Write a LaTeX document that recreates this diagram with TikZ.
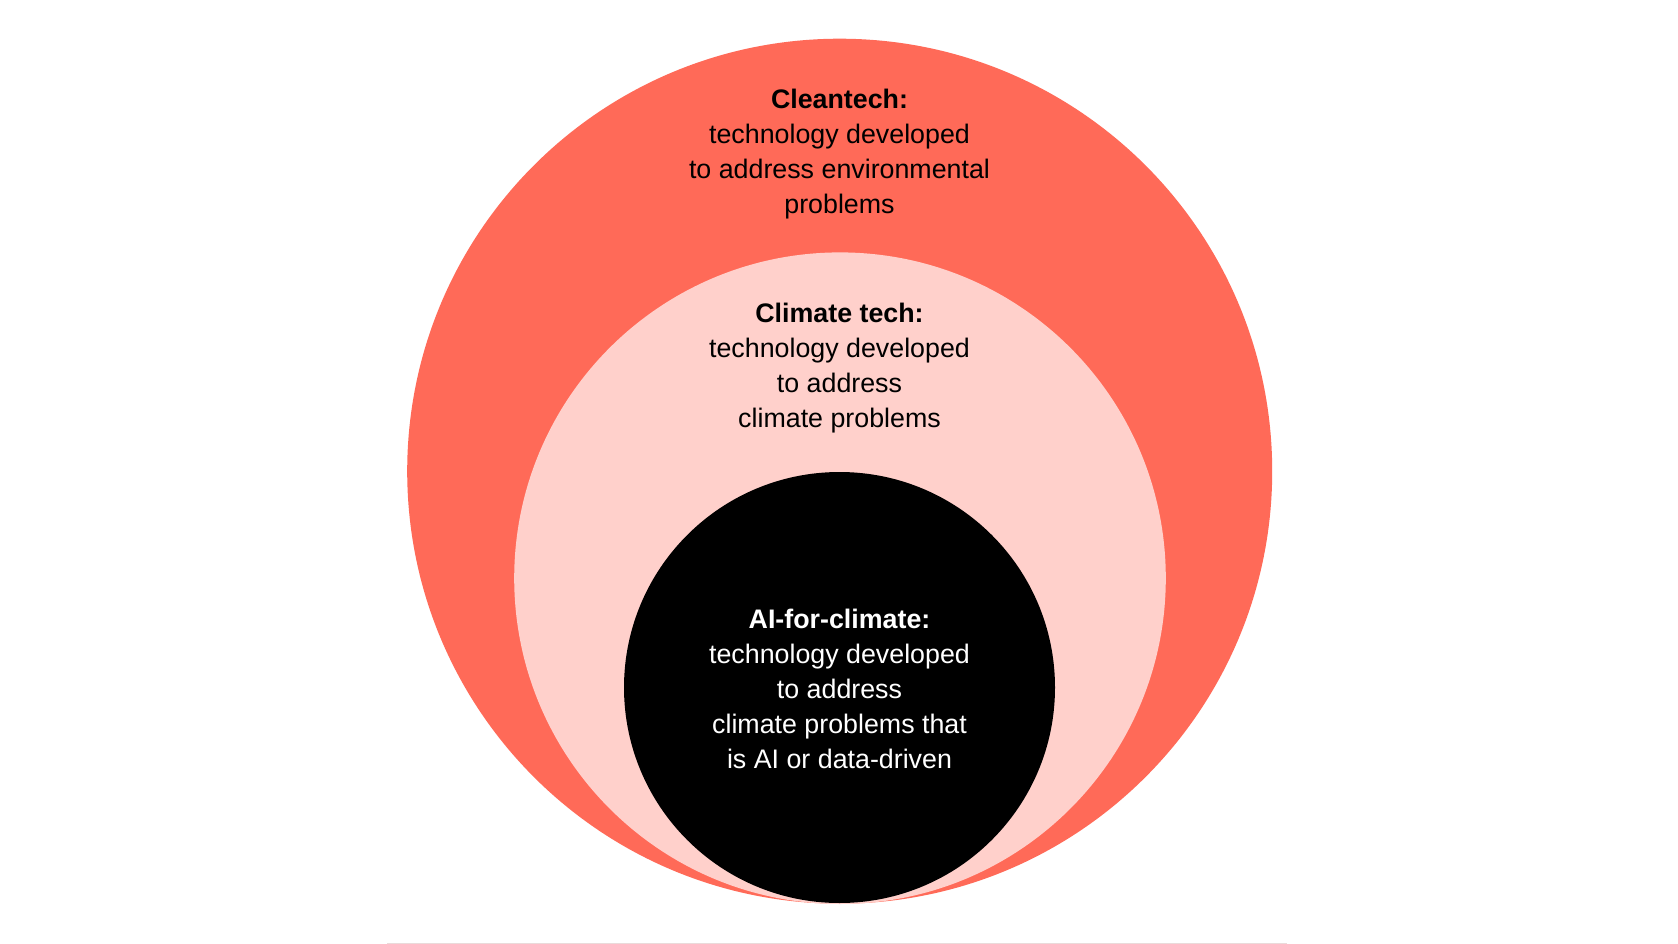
\documentclass[tikz,border=0pt]{standalone}
\usepackage{fontspec}
\setmainfont{Liberation Sans}
\definecolor{coral}{HTML}{FF6A58}
\definecolor{blush}{HTML}{FFD0CB}
\definecolor{rule}{HTML}{EADADA}
\begin{document}
\begin{tikzpicture}[x=1pt,y=-1pt,
  ring/.style={circle,inner sep=0pt,outer sep=0pt},
  lbl/.style={align=center,inner sep=0pt,font=\fontsize{26.8}{35}\selectfont}]
\useasboundingbox[fill=white] (0,0) rectangle (1678,944);
\node[ring,fill=coral,minimum size=865pt] (outer) at (839.7,471.2) {};
\node[ring,fill=blush,minimum size=651.6pt] (middle) at (840,578.2) {};
\node[ring,fill=black,minimum size=431pt] (inner) at (839.5,687.5) {};
\node[lbl,text=black] (clean) at (839.5,154.5) {\textbf{Cleantech:}\\technology developed\\to address environmental\\problems};
\node[lbl,text=black] (climate) at (839.5,368.5) {\textbf{Climate tech:}\\technology developed\\to address\\climate problems};
\node[lbl,text=white] (ai) at (839.5,689) {\textbf{AI-for-climate:}\\technology developed\\to address\\climate problems that\\is AI or data-driven};
\coordinate (ruleL) at (387,943);
\coordinate (ruleR) at (1287,943);
\draw[rule,line width=1pt] (ruleL) -- (ruleR);
\end{tikzpicture}
\end{document}
